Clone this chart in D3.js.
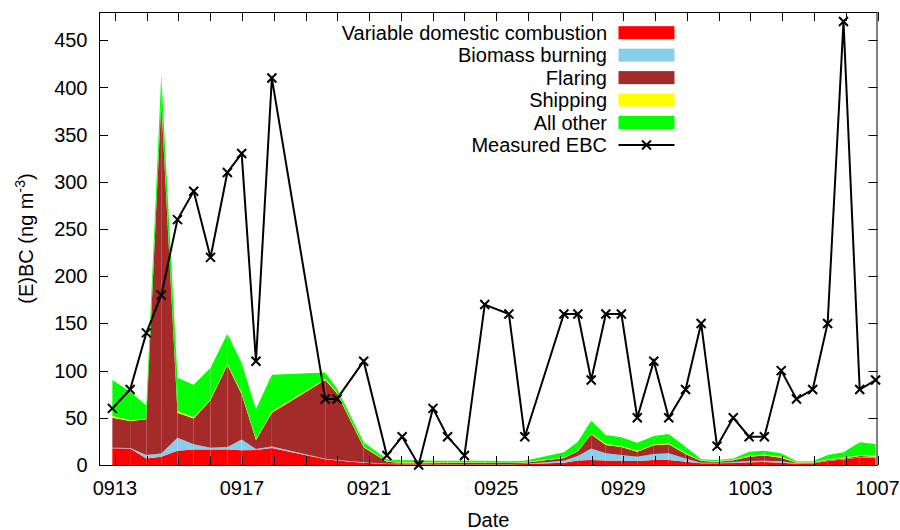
<!DOCTYPE html>
<html>
<head>
<meta charset="utf-8">
<script src="https://cdn.jsdelivr.net/npm/d3@7"></script>
<style>
  html, body { margin: 0; padding: 0; background: #fff; }
  svg { display: block; font-family: "Liberation Sans", Arial, sans-serif; }
</style>
</head>
<body>
<svg id="chart" width="900" height="530"></svg>
<script>
// ---- data (days since 0913 00:00) ----
const dayOffsets = [-0.08, 0.48, 0.99, 1.46, 1.97, 2.48, 3.01, 3.54, 3.99, 4.44, 4.94,
  6.62, 6.99, 7.83, 8.56, 9.04, 9.56, 10.01, 10.47, 11.0, 11.64, 12.4, 12.9,
  14.13, 14.57, 14.99, 15.45, 15.94, 16.44, 16.96, 17.43, 17.96, 18.45, 18.95,
  19.46, 19.96, 20.44, 20.97, 21.45, 21.96, 22.43, 22.93, 23.44, 23.94];

const measuredEBC = [60, 80, 140, 180, 260, 290, 220, 310, 330, 110, 410,
  70, 70, 110, 10, 30, 0, 60, 30, 10, 170, 160, 30,
  160, 160, 90, 160, 160, 50, 110, 50, 80, 150, 20,
  50, 30, 30, 100, 70, 80, 150, 470, 80, 90];

const domestic = [17.7, 17.5, 7, 8.8, 15, 16.5, 16.5, 16.5, 15.5, 16, 18,
  6, 4.8, 2.5, 1, 0.8, 0.8, 0.8, 0.8, 0.8, 0.8, 0.8, 1,
  2.5, 4.9, 5.3, 4.9, 4.6, 4.2, 5.3, 5.3, 3.5, 1.8, 1.8,
  2.1, 2.8, 3.2, 2.5, 1.4, 1.5, 4.2, 5.7, 8, 7.8];

const biomass = [0.5, 0.5, 3.6, 3.5, 14, 5.5, 1.9, 2.5, 11.5, 1, 1.5,
  0.5, 0.5, 0.5, 0.3, 0.7, 0.8, 0.5, 0.3, 0.2, 0.2, 0.2, 0.3,
  2.1, 4.6, 12.3, 7.5, 6, 4.6, 6.3, 7.1, 3.5, 0.7, 0.5,
  1.1, 1.4, 1.4, 1.4, 0.4, 0.3, 0.3, 0.3, 0.3, 0.3];

const flaring = [31.8, 28.6, 37.8, 372.7, 26.4, 27.4, 50.5, 87, 48, 9.5, 35.9,
  83.5, 70.7, 15.7, 2.2, 1, 0.9, 1.2, 1.2, 1.2, 1.2, 1, 1.2,
  2.8, 5, 14.9, 8.8, 8.4, 5.2, 9.2, 9.5, 4.6, 1.7, 1.2,
  1.8, 4.6, 5.4, 3.9, 0.7, 0.7, 0.8, 1, 1.2, 0.7];

const shipping = [2, 0.9, 0.6, 2, 1.6, 1.1, 1.1, 1, 1, 1, 1.6,
  1, 1, 0.8, 0.5, 0.5, 0.5, 0.5, 0.5, 0.5, 0.5, 0.5, 0.5,
  0.7, 0.7, 1, 1, 1, 1.2, 1.1, 1, 0.8, 0.6, 0.7,
  0.6, 1.2, 1, 1, 0.5, 0.5, 0.7, 0.8, 1.1, 1.1];

const allOther = [38, 30.5, 14, 26, 35.5, 34.5, 33, 32, 32, 31.5, 38.5,
  7, 4, 4.5, 2, 2, 2, 1.5, 1.7, 1.8, 1.8, 1.5, 1.5,
  5.3, 9.5, 13.5, 9.6, 9.3, 8.4, 8.8, 9.9, 7, 1.2, 1.1,
  1.4, 4, 4.2, 3.6, 0.9, 0.9, 4.6, 5.6, 13.4, 12.3];

const seriesNames = ["Variable domestic combustion", "Biomass burning", "Flaring", "Shipping", "All other"];
const seriesColors = ["#ff0000", "#87ceeb", "#a52a2a", "#ffff00", "#00ff00"];
const measuredName = "Measured EBC";

const xTickDays = [0, 4, 8, 12, 16, 20, 24];
const xTickLabels = ["0913", "0917", "0921", "0925", "0929", "1003", "1007"];
const yTickValues = [0, 50, 100, 150, 200, 250, 300, 350, 400, 450];

// ---- layout ----
const svg = d3.select("#chart");
const L = 99, R = 877.5, T = 12, B = 465;
const fs = 20;

const x = d3.scaleLinear().domain([-0.5, 24]).range([L, R]);
const y = d3.scaleLinear().domain([0, 480]).range([B, T]);

// table for stacking
const keys = ["domestic", "biomass", "flaring", "shipping", "allOther"];
const srcs = [domestic, biomass, flaring, shipping, allOther];
const table = dayOffsets.map((d, i) => {
  const row = { t: d };
  keys.forEach((k, j) => row[k] = srcs[j][i]);
  return row;
});
const stacked = d3.stack().keys(keys)(table);

// draw stacked areas as per-interval segments (gives faint seams like the original)
const area = d3.area().x(d => x(d.data.t)).y0(d => y(d[0])).y1(d => y(d[1]));
const gArea = svg.append("g");
stacked.forEach((layer, j) => {
  for (let i = 0; i < layer.length - 1; i++) {
    gArea.append("path")
      .attr("d", area([layer[i], layer[i + 1]]))
      .attr("fill", seriesColors[j]);
  }
});

// axes (all ticks inward, mirrored)
const gAx = svg.append("g").attr("stroke", "#000").attr("stroke-width", 1);
const minorDays = d3.range(0, 25, 1);
minorDays.forEach(d => {
  const px = Math.round(x(d)) + 0.5;
  gAx.append("line").attr("x1", px).attr("x2", px).attr("y1", B).attr("y2", B - 9);
  gAx.append("line").attr("x1", px).attr("x2", px).attr("y1", T).attr("y2", T + 9);
});
yTickValues.forEach(v => {
  const py = Math.round(y(v)) + 0.5;
  gAx.append("line").attr("x1", L).attr("x2", L + 9).attr("y1", py).attr("y2", py);
  gAx.append("line").attr("x1", R).attr("x2", R - 9).attr("y1", py).attr("y2", py);
});
svg.append("rect").attr("x", L + 0.5).attr("y", T + 0.5)
  .attr("width", R - L - 1).attr("height", B - T)
  .attr("fill", "none").attr("stroke", "#000").attr("stroke-width", 1);

// tick labels
const gLab = svg.append("g").attr("font-size", fs).attr("fill", "#000");
yTickValues.forEach(v => {
  gLab.append("text").attr("x", 87.5).attr("y", y(v) + 7)
    .attr("text-anchor", "end").text(v);
});
xTickDays.forEach((d, i) => {
  gLab.append("text").attr("x", x(d)).attr("y", 495)
    .attr("text-anchor", "middle").text(xTickLabels[i]);
});

// axis titles
svg.append("text").attr("x", (L + R) / 2).attr("y", 527)
  .attr("text-anchor", "middle").attr("font-size", fs).text("Date");
const yt = svg.append("text")
  .attr("transform", `translate(32.5,${(T + B) / 2}) rotate(-90)`)
  .attr("text-anchor", "middle").attr("font-size", fs);
yt.append("tspan").text("(E)BC (ng m");
yt.append("tspan").attr("font-size", 14).attr("dy", -8).text("-3");
yt.append("tspan").attr("dy", 8).text(")");

// measured line
const line = d3.line().x((d, i) => x(dayOffsets[i])).y(d => y(d));
svg.append("path").attr("d", line(measuredEBC))
  .attr("fill", "none").attr("stroke", "#000").attr("stroke-width", 2)
  .attr("stroke-linejoin", "miter");
const cross = "M-4.5,-4.5L4.5,4.5M-4.5,4.5L4.5,-4.5";
svg.append("g").selectAll("path").data(measuredEBC).join("path")
  .attr("transform", (d, i) => `translate(${x(dayOffsets[i])},${y(d)})`)
  .attr("d", cross).attr("stroke", "#000").attr("stroke-width", 2).attr("fill", "none");

// legend
const legY0 = 32.7, legDy = 22.45;
const gLeg = svg.append("g").attr("font-size", fs);
seriesNames.forEach((name, i) => {
  const cy = legY0 + i * legDy;
  gLeg.append("text").attr("x", 607).attr("y", cy + 7)
    .attr("text-anchor", "end").text(name);
  gLeg.append("rect").attr("x", 618.5).attr("y", cy - 6.5)
    .attr("width", 56).attr("height", 13).attr("fill", seriesColors[i]);
});
{
  const cy = legY0 + 5 * legDy;
  gLeg.append("text").attr("x", 607).attr("y", cy + 7)
    .attr("text-anchor", "end").text(measuredName);
  gLeg.append("line").attr("x1", 618.5).attr("x2", 674.5).attr("y1", cy).attr("y2", cy)
    .attr("stroke", "#000").attr("stroke-width", 2);
  gLeg.append("path").attr("transform", `translate(646.5,${cy})`).attr("d", cross)
    .attr("stroke", "#000").attr("stroke-width", 2).attr("fill", "none");
}
</script>
</body>
</html>
